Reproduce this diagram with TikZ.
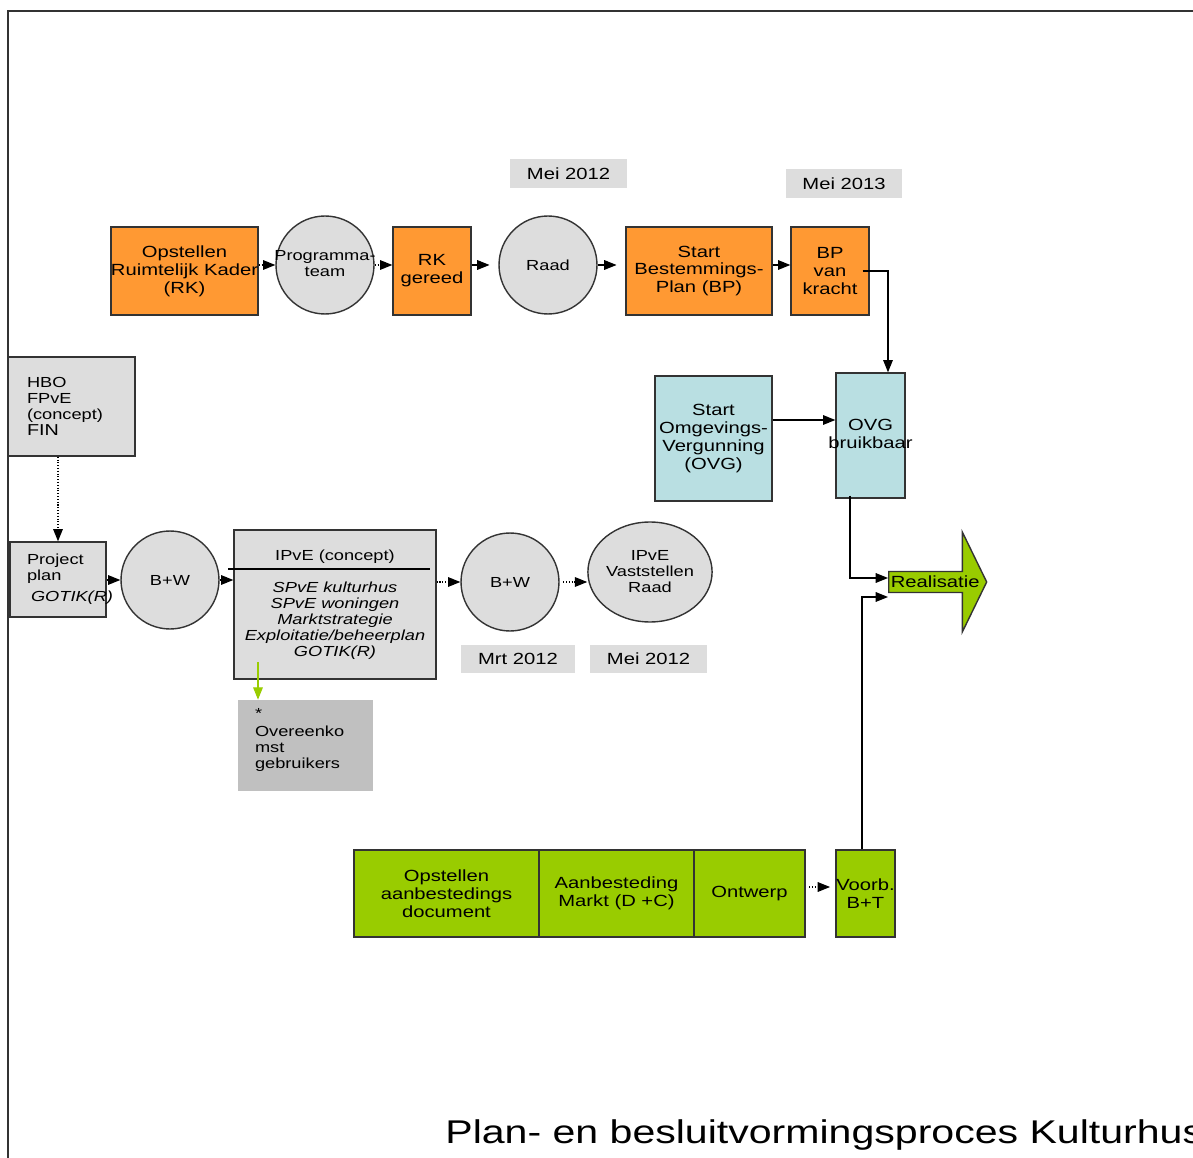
\documentclass[tikz,border=0pt]{standalone}
\usepackage{fontspec}
\setmainfont{Liberation Sans}[FakeStretch=1.25]
\usepackage{tikz}
\usetikzlibrary{arrows.meta,positioning,calc,shapes.geometric,shapes.arrows}
\definecolor{oranje}{HTML}{FF9933}
\definecolor{lichtgrijs}{HTML}{DDDDDD}
\definecolor{middengrijs}{HTML}{C0C0C0}
\definecolor{lichtblauw}{HTML}{B9DFE2}
\definecolor{groen}{HTML}{99CC00}
\definecolor{rand}{HTML}{333333}
\newcommand{\mainfs}{\fontsize{9.2}{10.2}\selectfont}
\newcommand{\smallfs}{\fontsize{8.3}{9.1}\selectfont}
\newcommand{\titlefs}{\fontsize{18.7}{22}\selectfont}
\newcommand{\vrij}[1]{\makebox[0pt]{\begin{tabular}{@{}c@{}}#1\end{tabular}}}

\begin{document}
\begin{tikzpicture}[x=0.02cm, y=-0.02cm,
    stap/.style={draw=rand, line width=0.8pt, inner sep=0pt, align=center, font=\mainfs, minimum height=1.76cm},
    oranjebox/.style={stap, fill=oranje},
    blauwbox/.style={stap, fill=lichtblauw, minimum height=2.5cm},
    groenbox/.style={stap, fill=groen, minimum height=1.74cm},
    grijsbox/.style={draw=rand, line width=0.8pt, fill=lichtgrijs, inner sep=0pt, font=\smallfs},
    rondje/.style={circle, draw=rand, line width=0.8pt, fill=lichtgrijs, minimum size=1.96cm, inner sep=0pt, align=center, font=\smallfs},
    datum/.style={fill=lichtgrijs, minimum width=2.34cm, minimum height=0.58cm, inner sep=0pt, font=\mainfs},
    arr/.style={-{Triangle[length=7pt,width=5.5pt]}, line width=0.6pt},
    stip/.style={arr, densely dotted},
]
    \useasboundingbox (0,0) rectangle (1193,1158);
    \clip (0,0) rectangle (1193,1158);
    \draw[line width=1.2pt, rand] (8,1158) -- (8,11) -- (1193,11);

    % bovenste rij
    \node[oranjebox, minimum width=2.94cm] (rk) at (184.5,271) {Opstellen\\Ruimtelijk Kader\\(RK)};
    \node[rondje] (prog) at (325,265) {\vrij{Programma-\\team}};
    \node[oranjebox, minimum width=1.56cm] (rkg) at (432,271) {RK\\gereed};
    \node[rondje] (raad) at (548,265) {Raad};
    \node[oranjebox, minimum width=2.92cm] (sbp) at (699,271) {Start\\Bestemmings-\\Plan (BP)};
    \node[oranjebox, minimum width=1.56cm] (bpk) at (830,271) {BP\\van\\kracht};
    \node[datum] (mei1) at (568.5,174) {Mei 2012};
    \node[datum, minimum width=2.32cm] (mei2) at (844,183.5) {Mei 2013};

    % omgevingsvergunning
    \node[blauwbox, minimum width=2.34cm] (sovg) at (713.5,438.5) {Start\\Omgevings-\\Vergunning\\(OVG)};
    \node[blauwbox, minimum width=1.38cm] (ovg) at (870.5,435.5) {\vrij{OVG\\bruikbaar}};
    \node[single arrow, draw=rand, line width=0.8pt, fill=groen, minimum height=1.96cm, minimum width=2cm,
          single arrow head extend=0.5cm, single arrow tip angle=128, inner sep=0pt, font=\mainfs, anchor=tail] (real) at (888,582)
        {\makebox[0pt]{Realisatie}};

    % middelste rij
    \node[grijsbox, minimum width=2.54cm, minimum height=1.98cm, text width=1.78cm, align=left] (hbo) at (71.5,406.5)
        {HBO\\FPvE\\(concept)\\{\fontsize{9}{9.1}\selectfont FIN}};
    \node[grijsbox, minimum width=1.92cm, minimum height=1.5cm, text width=1.24cm, align=left] (pplan) at (58,579.5)
        {Project\\plan\\[3pt]\hspace*{0.08cm}\textit{GOTIK(R)}};
    \node[rondje] (bw1) at (170,580) {B+W};
    \node[grijsbox, minimum width=4.04cm, minimum height=2.98cm, align=center] (ipve) at (335,604.5)
        {IPvE (concept)\\[9pt]\textit{SPvE kulturhus}\\\textit{SPvE woningen}\\\textit{Marktstrategie}\\\textit{Exploitatie/beheerplan}\\\textit{GOTIK(R)}};
    \node[fill=middengrijs, inner sep=0pt, font=\smallfs, minimum width=2.7cm, minimum height=1.82cm, text width=2.02cm, align=left] (overeen) at (305.5,745.5)
        {*\\[1.5pt]Overeenko\\mst\\gebruikers\\[-1pt]\mbox{}};
    \node[rondje] (bw2) at (510,582) {B+W};
    \node[ellipse, draw=rand, line width=0.8pt, fill=lichtgrijs, minimum width=2.4cm, minimum height=2cm, inner sep=0pt, align=center, font=\smallfs] (ipvr) at (650,572)
        {IPvE\\Vaststellen\\Raad};
    \node[datum, minimum width=2.28cm, minimum height=0.56cm] (mrt) at (518,659) {Mrt 2012};
    \node[datum, minimum height=0.56cm] (mei3) at (648.5,659) {Mei 2012};
    \coordinate (lijnL) at (228,569);
    \coordinate (lijnR) at (430,569);
    \coordinate (gstart) at (258,662);

    % onderste rij
    \node[groenbox, minimum width=3.7cm] (oad) at (446.5,893.5) {Opstellen\\aanbestedings\\document};
    \node[groenbox, minimum width=3.1cm] (aam) at (616.5,893.5) {Aanbesteding\\Markt (D +C)};
    \node[groenbox, minimum width=2.22cm] (ontw) at (749.5,893.5) {Ontwerp};
    \node[groenbox, minimum width=1.18cm] (vbt) at (865.5,893.5) {Voorb.\\B+T};

    \node[font=\titlefs, anchor=base west, inner sep=0pt] (titel) at (445,1143) {Plan- en besluitvormingsproces Kulturhus};

    \draw[stip] (rk.east |- prog.west) -- (prog.west);
    \draw[stip] (prog.east) -- (prog.east -| rkg.west);
    \draw[arr, shorten >=5pt] (rkg.east |- raad.west) -- (raad.west);
    \draw[arr, shorten >=5pt] (raad.east) -- (raad.east -| sbp.west);
    \draw[arr] (sbp.east |- raad.east) -- (bpk.west |- raad.east);
    \draw[arr] ([xshift=-0.14cm]bpk.east) -| ([xshift=0.35cm]ovg.north);
    \draw[arr] ([yshift=0.37cm]sovg.east) -- ([yshift=0.37cm]sovg.east -| ovg.west);
    \draw[arr] ([xshift=-0.41cm,yshift=0.06cm]ovg.south) |- ([yshift=0.08cm]real.tail);
    \draw[arr] ([xshift=-0.07cm]vbt.north) |- ([yshift=-0.3cm]real.tail);
    \draw[stip] (hbo.south -| pplan.north) -- (pplan.north);
    \draw[stip] (pplan.east |- bw1.west) -- (bw1.west);
    \draw[arr] (bw1.east) -- (bw1.east -| ipve.west);
    \draw[line width=0.6pt] (lijnL) -- (lijnR);
    \draw[stip] (ipve.east |- bw2.west) -- (bw2.west);
    \draw[stip, shorten <=2pt] (bw2.east) -- (bw2.east -| ipvr.west);
    \draw[arr, color=groen] (gstart) -- (gstart |- overeen.north);
    \draw[stip, shorten <=2pt, shorten >=3pt] ([yshift=0.13cm]ontw.east) -- ([yshift=0.13cm]ontw.east -| vbt.west);
\end{tikzpicture}
\end{document}
